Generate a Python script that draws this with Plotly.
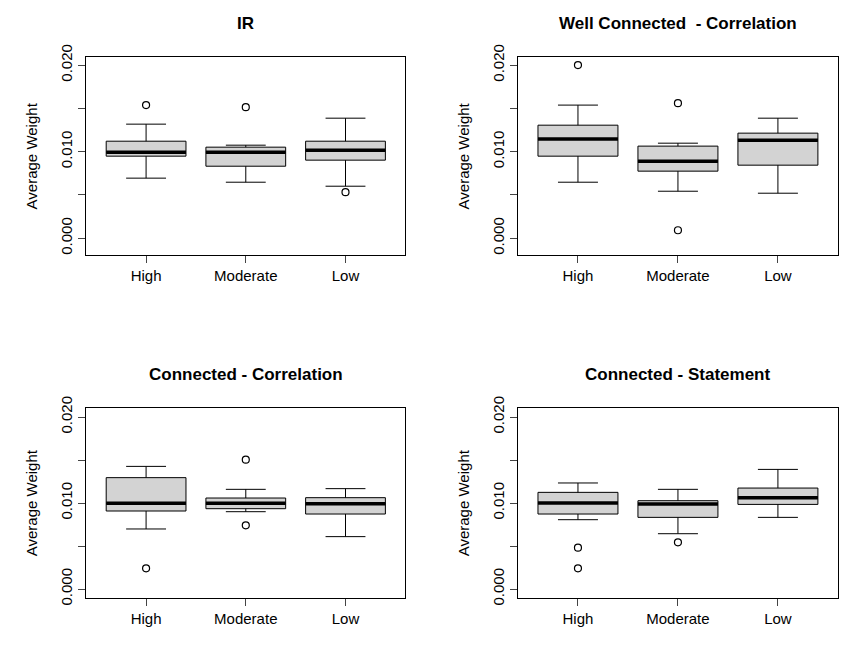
import plotly.graph_objects as go

categories = ["High", "Moderate", "Low"]
titles = ["IR", "Well Connected  - Correlation", "Connected - Correlation", "Connected - Statement"]

# per panel: lower whisker, q1, median, q3, upper whisker (High, Moderate, Low)
lower = [[0.00694, 0.00647, 0.00601], [0.00647, 0.00543, 0.00520],
         [0.00698, 0.00899, 0.00609], [0.00806, 0.00643, 0.00833]]
q1 = [[0.00948, 0.00832, 0.00902], [0.00948, 0.00775, 0.00844],
      [0.00907, 0.00934, 0.00872], [0.00872, 0.00833, 0.00984]]
median = [[0.00994, 0.00994, 0.01017], [0.01145, 0.00890, 0.01133],
          [0.00996, 0.00996, 0.00992], [0.01000, 0.00988, 0.01062]]
q3 = [[0.01121, 0.01052, 0.01121], [0.01306, 0.01064, 0.01214],
      [0.01295, 0.01058, 0.01062], [0.01124, 0.01027, 0.01174]]
upper = [[0.01318, 0.01075, 0.01387], [0.01538, 0.01098, 0.01387],
         [0.01426, 0.01159, 0.01167], [0.01233, 0.01159, 0.01391]]
outliers = [[[0.01538], [0.01514], [0.00532]],
            [[0.0200], [0.0156, 0.00092], []],
            [[0.0024], [0.01504, 0.0074], []],
            [[0.0048, 0.0024], [0.00543], []]]

xdom = [[0.091, 0.462], [0.593, 0.965]]
ydom = [[0.619, 0.924], [0.091, 0.383]]
yrng = [[-0.00197, 0.0209], [-0.00104, 0.0210]]
font = "Liberation Sans, Arial, sans-serif"

fig = go.Figure()
layout = dict(template="none", width=860, height=649, showlegend=False,
              margin=dict(l=0, r=0, t=0, b=0), paper_bgcolor="white",
              plot_bgcolor="white", font=dict(family=font, size=15, color="black"))
annotations = []
pos = [1, 2, 3]
for p in range(4):
    r, c = divmod(p, 2)
    k = "" if p == 0 else str(p + 1)
    xa, ya = "x" + k, "y" + k
    fig.add_trace(go.Box(
        x=pos, q1=q1[p], median=median[p], q3=q3[p],
        lowerfence=lower[p], upperfence=upper[p], width=0.8, whiskerwidth=0.5,
        fillcolor="#d3d3d3", line=dict(color="black", width=1),
        xaxis=xa, yaxis=ya, hoverinfo="skip"))
    for i in range(3):
        fig.add_trace(go.Scatter(
            x=[pos[i] - 0.4, pos[i] + 0.4], y=[median[p][i]] * 2, mode="lines",
            line=dict(color="black", width=3.5), xaxis=xa, yaxis=ya))
        if outliers[p][i]:
            fig.add_trace(go.Scatter(
                x=[pos[i]] * len(outliers[p][i]), y=outliers[p][i], mode="markers",
                marker=dict(symbol="circle-open", size=7, color="black",
                            line=dict(width=1.2)), xaxis=xa, yaxis=ya))
    layout["xaxis" + k] = dict(domain=xdom[c], range=[0.4, 3.6], tickvals=pos,
                               ticktext=categories, ticks="outside", ticklen=7,
                               showgrid=False, zeroline=False, showline=True,
                               mirror=True, linecolor="black", linewidth=1,
                               anchor=ya, tickfont=dict(size=15))
    layout["yaxis" + k] = dict(domain=ydom[r], range=yrng[r],
                               tickvals=[0, 0.005, 0.01, 0.015, 0.02],
                               ticktext=["0.000", "", "0.010", "", "0.020"],
                               tickangle=-90, ticks="outside", ticklen=7,
                               showgrid=False, zeroline=False, showline=True,
                               mirror=True, linecolor="black", linewidth=1,
                               anchor=xa, tickfont=dict(size=15),
                               title=dict(text="Average Weight", standoff=16,
                                          font=dict(size=15)))
    annotations.append(dict(text="<b>" + titles[p] + "</b>", xref="paper", yref="paper",
                            x=sum(xdom[c]) / 2, y=ydom[r][1] + 0.035, xanchor="center",
                            yanchor="bottom", showarrow=False, font=dict(size=17)))
layout["annotations"] = annotations
fig.update_layout(**layout)
fig.write_html("out.html")
